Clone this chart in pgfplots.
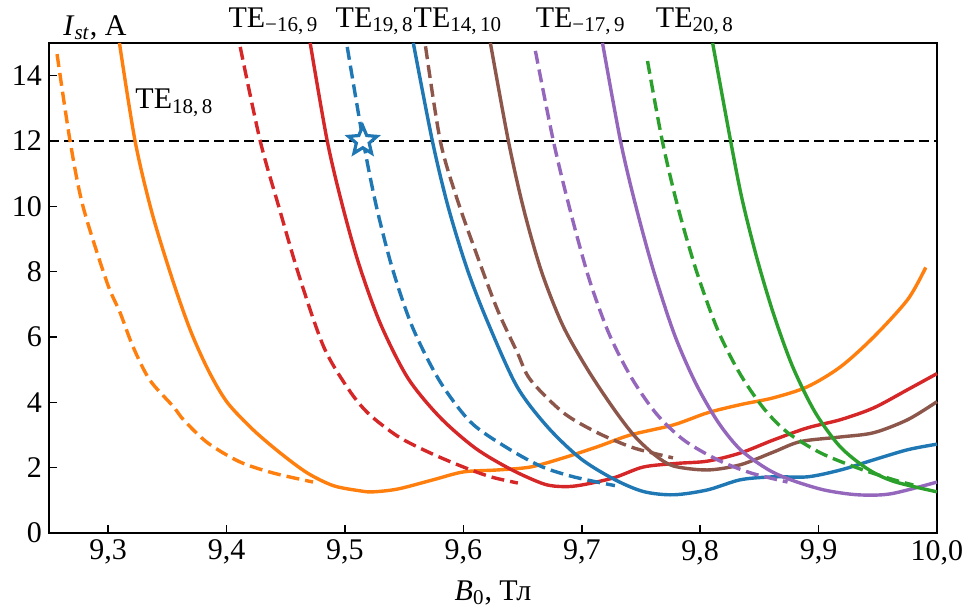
\documentclass[border=0pt]{standalone}
\usepackage{fontspec}
\setmainfont{Liberation Serif}
\usepackage{pgfplots}
\pgfplotsset{compat=1.18}
\definecolor{tblue}{HTML}{1F77B4}
\definecolor{torange}{HTML}{FF7F0E}
\definecolor{tgreen}{HTML}{2CA02C}
\definecolor{tred}{HTML}{D62728}
\definecolor{tpurple}{HTML}{9467BD}
\definecolor{tbrown}{HTML}{8C564B}
\pgfdeclareplotmark{fstar}{%
  \pgfpathmoveto{\pgfpointpolar{90}{\pgfplotmarksize}}%
  \pgfpathlineto{\pgfpointpolar{126}{0.45\pgfplotmarksize}}%
  \pgfpathlineto{\pgfpointpolar{162}{\pgfplotmarksize}}%
  \pgfpathlineto{\pgfpointpolar{198}{0.45\pgfplotmarksize}}%
  \pgfpathlineto{\pgfpointpolar{234}{\pgfplotmarksize}}%
  \pgfpathlineto{\pgfpointpolar{270}{0.45\pgfplotmarksize}}%
  \pgfpathlineto{\pgfpointpolar{306}{\pgfplotmarksize}}%
  \pgfpathlineto{\pgfpointpolar{342}{0.45\pgfplotmarksize}}%
  \pgfpathlineto{\pgfpointpolar{18}{\pgfplotmarksize}}%
  \pgfpathlineto{\pgfpointpolar{54}{0.45\pgfplotmarksize}}%
  \pgfpathclose\pgfusepathqfillstroke}
\begin{document}
\begin{tikzpicture}
\path[use as bounding box] (-24.5pt,-37pt) rectangle (460.5pt,266.5pt);
\begin{axis}[
  at={(0,0)}, anchor=south west,
  width=444pt, height=245pt, scale only axis,
  xmin=9.25, xmax=10, ymin=0, ymax=15,
  xtick={9.3,9.4,9.5,9.6,9.7,9.8,9.9,10.0},
  xticklabels={{9,3},{9,4},{9,5},{9,6},{9,7},{9,8},{9,9},{10,0}},
  ytick={0,2,4,6,8,10,12,14},
  tick align=inside, xtick pos=bottom, ytick pos=left,
  major tick length=4pt,
  every tick/.style={black, line width=0.8pt},
  axis line style={line width=1pt},
  tick label style={font=\fontsize{15}{18}\selectfont},
  /pgf/number format/assume math mode=true,
  clip=false,
  every axis plot/.append style={line width=1.7pt, smooth, tension=0.5},
  dsh/.style={dash pattern=on 6.5pt off 3pt},
]
% reference line
\addplot[black, line width=1pt, sharp plot, dash pattern=on 5pt off 2.5pt] coordinates {(9.25,12) (10,12)};
% orange dashed
\addplot[torange, dsh] table {
9.2568 14.66
9.2678 12.0
9.2787 10.0
9.2990 7.67
9.3100 6.75
9.3210 5.70
9.3350 4.69
9.3550 3.87
9.3640 3.45
9.3840 2.76
9.4110 2.18
9.4390 1.84
9.4730 1.56
};
% orange solid TE18,8
\addplot[torange] table {
9.3095 15.0
9.3227 12.0
9.3370 9.8
9.3548 7.7
9.3700 6.15
9.3850 4.95
9.4005 4.0
9.4224 3.16
9.4453 2.45
9.4681 1.84
9.4901 1.45
9.5129 1.29
9.5239 1.26
9.5450 1.35
9.5746 1.63
9.6000 1.87
9.6287 1.93
9.6566 2.02
9.6845 2.30
9.7132 2.64
9.7410 3.00
9.7775 3.31
9.8062 3.68
9.8340 3.93
9.8620 4.14
9.8907 4.48
9.9186 5.09
9.9465 6.00
9.9753 7.15
9.9905 8.13
};
% red dashed
\addplot[tred, dsh] table {
9.4115 14.88
9.4284 12.0
9.4440 10.0
9.4610 7.9
9.4820 5.7
9.5030 4.4
9.5200 3.65
9.5450 2.95
9.5720 2.45
9.6000 2.02
9.6230 1.72
9.6460 1.53
};
% red solid
\addplot[tred] table {
9.4706 15.0
9.4850 12.0
9.4980 10.0
9.5120 8.2
9.5300 6.4
9.5530 4.75
9.5800 3.55
9.6100 2.6
9.6400 1.95
9.6680 1.5
9.6850 1.42
9.7000 1.47
9.7270 1.69
9.7520 2.02
9.7800 2.13
9.8062 2.2
9.8340 2.45
9.8620 2.85
9.8907 3.22
9.9186 3.47
9.9465 3.83
9.9753 4.39
10.000 4.88
};
% blue dashed
\addplot[tblue, dsh] table {
9.5019 14.88
9.5154 12.0
9.5265 10.0
9.5400 8.1
9.5570 6.3
9.5800 4.65
9.6060 3.4
9.6350 2.65
9.6650 2.05
9.6930 1.72
9.7280 1.45
};
% blue solid
\addplot[tblue] table {
9.5577 15.0
9.5738 12.0
9.5870 10.0
9.6030 8.1
9.6200 6.5
9.6450 4.5
9.6710 3.25
9.6990 2.28
9.7270 1.65
9.7520 1.27
9.7775 1.17
9.8062 1.32
9.8340 1.63
9.8620 1.72
9.8907 1.72
9.9186 1.93
9.9465 2.24
9.9753 2.55
10.000 2.72
};
% brown dashed
\addplot[tbrown, dsh] table {
9.5680 14.9
9.5805 12.0
9.5949 10.2
9.6118 8.47
9.6287 6.84
9.6456 5.52
9.6566 4.69
9.6845 3.68
9.7132 3.07
9.7410 2.64
9.7597 2.45
9.7770 2.30
};
% brown solid
\addplot[tbrown] table {
9.6228 15.0
9.6380 12.0
9.6510 9.9
9.6660 8.0
9.6840 6.35
9.7050 5.0
9.7270 3.8
9.7450 2.95
9.7620 2.38
9.7775 2.05
9.8062 1.93
9.8340 2.09
9.8620 2.48
9.8848 2.8
9.9186 2.94
9.9465 3.07
9.9753 3.47
10.000 4.02
};
% purple dashed
\addplot[tpurple, dsh] table {
9.6608 14.76
9.6760 12.0
9.6900 9.9
9.7060 7.8
9.7230 6.1
9.7420 4.75
9.7630 3.65
9.7860 2.85
9.8147 2.24
9.8426 1.84
9.8738 1.56
};
% purple solid
\addplot[tpurple] table {
9.7175 15.0
9.7327 12.0
9.7450 10.1
9.7600 8.1
9.7780 6.1
9.7960 4.6
9.8150 3.4
9.8340 2.55
9.8570 1.95
9.8764 1.63
9.9043 1.32
9.9330 1.17
9.9609 1.2
10.000 1.56
};
% green dashed
\addplot[tgreen, dsh] table {
9.7555 14.45
9.7680 12.0
9.7810 10.0
9.7970 8.0
9.8150 6.2
9.8340 4.85
9.8540 3.8
9.8740 3.07
9.9018 2.45
9.9330 1.99
9.9634 1.63
9.9800 1.47
};
% green solid
\addplot[tgreen] table {
9.8105 15.0
9.8257 12.0
9.8355 10.2
9.8480 8.4
9.8620 6.7
9.8780 5.1
9.8970 3.7
9.9180 2.65
9.9410 1.97
9.9634 1.58
10.000 1.26
};
% star
\addplot[only marks, mark=fstar, mark size=7.5pt, mark options={draw=tblue, fill=white, line width=1.6pt, solid}] coordinates {(9.5150,12)};
% labels
\node[anchor=base west, font=\fontsize{15}{18}\selectfont, inner sep=0pt] at (axis cs:9.2618,15) [yshift=4pt] {\textit{I}\textsubscript{\textit{st}}, A};
\node[anchor=base west, font=\fontsize{15}{18}\selectfont, inner sep=0pt] at (axis cs:9.4013,15) [yshift=8pt] {TE\textsubscript{−16,\,9}};
\node[anchor=base west, font=\fontsize{15}{18}\selectfont, inner sep=0pt] at (axis cs:9.4918,15) [yshift=8pt] {TE\textsubscript{19,\,8}};
\node[anchor=base west, font=\fontsize{15}{18}\selectfont, inner sep=0pt] at (axis cs:9.5577,15) [yshift=8pt] {TE\textsubscript{14,\,10}};
\node[anchor=base west, font=\fontsize{15}{18}\selectfont, inner sep=0pt] at (axis cs:9.6608,15) [yshift=8pt] {TE\textsubscript{−17,\,9}};
\node[anchor=base west, font=\fontsize{15}{18}\selectfont, inner sep=0pt] at (axis cs:9.7623,15) [yshift=8pt] {TE\textsubscript{20,\,8}};
\node[anchor=base west, font=\fontsize{15}{18}\selectfont, inner sep=0pt] at (axis cs:9.3227,12.98) {TE\textsubscript{18,\,8}};
\node[anchor=base, font=\fontsize{15}{18}\selectfont, inner sep=0pt] at (axis cs:9.625,0) [yshift=-33.5pt] {\textit{B}\textsubscript{0}, Тл};
\end{axis}
\end{tikzpicture}
\end{document}
